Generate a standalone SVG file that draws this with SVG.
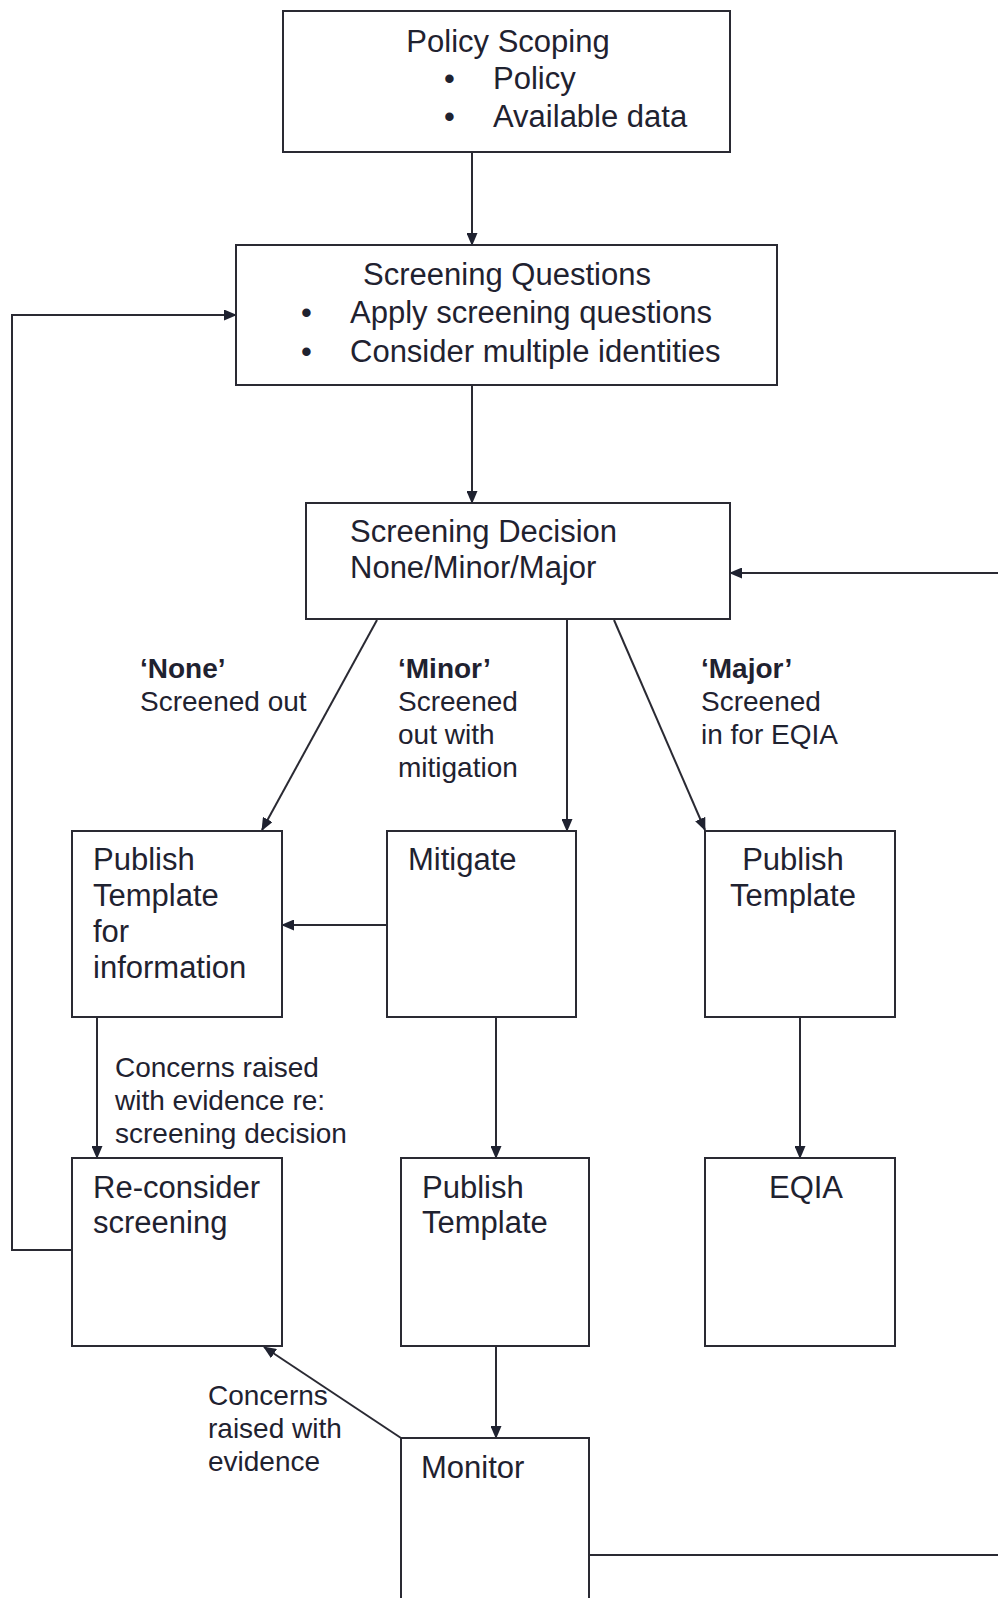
<svg xmlns="http://www.w3.org/2000/svg" width="998" height="1598" viewBox="0 0 998 1598">
<style>
.box{fill:#fff;stroke:#2a2a33;stroke-width:2}
.t{font-family:"Liberation Sans",Arial,sans-serif;font-size:31px;fill:#1f2230}
.l{font-family:"Liberation Sans",Arial,sans-serif;font-size:28px;fill:#1f2230}
.b{font-weight:bold}
.c{fill:none;stroke:#2a2a33;stroke-width:2}
</style>
<defs>
<marker id="ah" markerWidth="13" markerHeight="11" refX="12" refY="5.5" orient="auto" markerUnits="userSpaceOnUse">
<path d="M0,0 L13,5.5 L0,11 Z" fill="#1f2230"/>
</marker>
</defs>
<rect width="998" height="1598" fill="#fff"/>
<g id="connectors">
<line class="c" x1="472" y1="152" x2="472" y2="245" marker-end="url(#ah)"/>
<line class="c" x1="472" y1="385" x2="472" y2="503" marker-end="url(#ah)"/>
<line class="c" x1="998" y1="573" x2="730" y2="573" marker-end="url(#ah)"/>
<line class="c" x1="377" y1="620" x2="262" y2="830" marker-end="url(#ah)"/>
<line class="c" x1="567" y1="620" x2="567" y2="831" marker-end="url(#ah)"/>
<line class="c" x1="614" y1="620" x2="705" y2="830" marker-end="url(#ah)"/>
<line class="c" x1="387" y1="925" x2="282" y2="925" marker-end="url(#ah)"/>
<line class="c" x1="97" y1="1017" x2="97" y2="1158" marker-end="url(#ah)"/>
<line class="c" x1="496" y1="1017" x2="496" y2="1158" marker-end="url(#ah)"/>
<line class="c" x1="800" y1="1017" x2="800" y2="1158" marker-end="url(#ah)"/>
<line class="c" x1="496" y1="1346" x2="496" y2="1438" marker-end="url(#ah)"/>
<line class="c" x1="401" y1="1438" x2="264" y2="1347" marker-end="url(#ah)"/>
<polyline class="c" points="72,1250 12,1250 12,315 236,315" marker-end="url(#ah)"/>
<line class="c" x1="589" y1="1555" x2="998" y2="1555"/>
<text class="l b" x="140" y="678">‘None’</text>
<text class="l" x="140" y="711">Screened out</text>
<text class="l b" x="398" y="678">‘Minor’</text>
<text class="l" x="398" y="711">Screened</text>
<text class="l" x="398" y="744">out with</text>
<text class="l" x="398" y="777">mitigation</text>
<text class="l b" x="701" y="678">‘Major’</text>
<text class="l" x="701" y="711">Screened</text>
<text class="l" x="701" y="744">in for EQIA</text>
<text class="l" x="115" y="1077">Concerns raised</text>
<text class="l" x="115" y="1110">with evidence re:</text>
<text class="l" x="115" y="1143">screening decision</text>
<text class="l" x="208" y="1405">Concerns</text>
<text class="l" x="208" y="1438">raised with</text>
<text class="l" x="208" y="1471">evidence</text>
</g>
<g id="policy-scoping">
<rect class="box" x="283" y="11" width="447" height="141"/>
<text class="t" x="508" y="52" text-anchor="middle">Policy Scoping</text>
<text class="t" x="444" y="89">•</text>
<text class="t" x="493" y="89">Policy</text>
<text class="t" x="444" y="127">•</text>
<text class="t" x="493" y="127">Available data</text>
</g>
<g id="screening-questions">
<rect class="box" x="236" y="245" width="541" height="140"/>
<text class="t" x="507" y="285" text-anchor="middle">Screening Questions</text>
<text class="t" x="301" y="323">•</text>
<text class="t" x="350" y="323">Apply screening questions</text>
<text class="t" x="301" y="362">•</text>
<text class="t" x="350" y="362">Consider multiple identities</text>
</g>
<g id="screening-decision">
<rect class="box" x="306" y="503" width="424" height="116"/>
<text class="t" x="350" y="542">Screening Decision</text>
<text class="t" x="350" y="578">None/Minor/Major</text>
</g>
<g id="publish-info">
<rect class="box" x="72" y="831" width="210" height="186"/>
<text class="t" x="93" y="870">Publish</text>
<text class="t" x="93" y="906">Template</text>
<text class="t" x="93" y="942">for</text>
<text class="t" x="93" y="978">information</text>
</g>
<g id="mitigate">
<rect class="box" x="387" y="831" width="189" height="186"/>
<text class="t" x="408" y="870">Mitigate</text>
</g>
<g id="publish-major">
<rect class="box" x="705" y="831" width="190" height="186"/>
<text class="t" x="793" y="870" text-anchor="middle">Publish</text>
<text class="t" x="793" y="906" text-anchor="middle">Template</text>
</g>
<g id="reconsider">
<rect class="box" x="72" y="1158" width="210" height="188"/>
<text class="t" x="93" y="1198">Re-consider</text>
<text class="t" x="93" y="1233">screening</text>
</g>
<g id="publish-minor">
<rect class="box" x="401" y="1158" width="188" height="188"/>
<text class="t" x="422" y="1198">Publish</text>
<text class="t" x="422" y="1233">Template</text>
</g>
<g id="eqia">
<rect class="box" x="705" y="1158" width="190" height="188"/>
<text class="t" x="806" y="1198" text-anchor="middle">EQIA</text>
</g>
<g id="monitor">
<rect class="box" x="401" y="1438" width="188" height="180"/>
<text class="t" x="421" y="1478">Monitor</text>
</g>
</svg>
